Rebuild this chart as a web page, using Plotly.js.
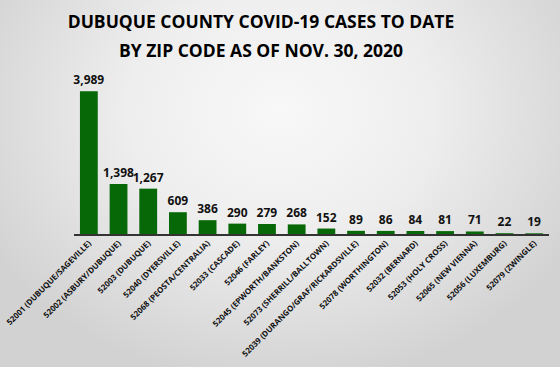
<!DOCTYPE html>
<html>
<head>
<meta charset="utf-8">
<script src="https://cdn.plot.ly/plotly-3.0.1.min.js"></script>
<style>
html,body{margin:0;padding:0;}
body{width:560px;height:367px;overflow:hidden;
background:radial-gradient(ellipse 60% 75% at 50% 30%, #f8f8f8 0%, #eeeeee 45%, #d2d2d2 100%);}
#chart{width:560px;height:367px;}
</style>
</head>
<body>
<div id="chart"></div>
<script>
const titleLines = ["DUBUQUE COUNTY COVID-19 CASES TO DATE", "BY ZIP CODE AS OF NOV. 30, 2020"];
const zipLabels = [
  "52001 (DUBUQUE/SAGEVILLE)",
  "52002 (ASBURY/DUBUQUE)",
  "52003 (DUBUQUE)",
  "52040 (DYERSVILLE)",
  "52068 (PEOSTA/CENTRALIA)",
  "52033 (CASCADE)",
  "52046 (FARLEY)",
  "52045 (EPWORTH/BANKSTON)",
  "52073 (SHERRILL/BALLTOWN)",
  "52039 (DURANGO/GRAF/RICKARDSVILLE)",
  "52078 (WORTHINGTON)",
  "52032 (BERNARD)",
  "52053 (HOLY CROSS)",
  "52065 (NEW VIENNA)",
  "52056 (LUXEMBURG)",
  "52079 (ZWINGLE)"
];
const cases = [3989, 1398, 1267, 609, 386, 290, 279, 268, 152, 89, 86, 84, 81, 71, 22, 19];

const trace = {
  type: "bar",
  x: zipLabels,
  y: cases,
  marker: {color: "#066806"},
  text: cases.map(v => v.toLocaleString("en-US")),
  textposition: "outside",
  constraintext: "none",
  cliponaxis: false,
  textfont: {family: "Open Sans, sans-serif", size: 12, color: "#111111", weight: 700},
  hoverinfo: "skip"
};

const titleFont = {family: "Open Sans, sans-serif", size: 17.5, color: "#000000", weight: 700};

const layout = {
  width: 560, height: 367,
  paper_bgcolor: "rgba(0,0,0,0)",
  plot_bgcolor: "rgba(0,0,0,0)",
  margin: {l: 74, r: 11, t: 73, b: 133},
  bargap: 0.4,
  showlegend: false,
  title: {
    text: titleLines[0],
    font: titleFont,
    x: 261 / 560, xanchor: "center", xref: "container",
    y: 1 - 21.5 / 367, yanchor: "middle", yref: "container"
  },
  annotations: [{
    text: titleLines[1],
    font: titleFont,
    xref: "paper", yref: "paper",
    x: (261 - 74) / 475, xanchor: "center",
    y: (234 - 50) / 161, yanchor: "middle",
    showarrow: false
  }],
  xaxis: {
    type: "category",
    tickangle: -45,
    tickfont: {family: "Open Sans, sans-serif", size: 8, color: "#111111", weight: 700},
    showline: true, linecolor: "#333333", linewidth: 1.5,
    ticks: "", showgrid: false, automargin: false
  },
  yaxis: {
    range: [0, 4500],
    visible: false, showgrid: false, zeroline: false
  }
};

Plotly.newPlot("chart", [trace], layout, {displayModeBar: false, staticPlot: true});
</script>
</body>
</html>
